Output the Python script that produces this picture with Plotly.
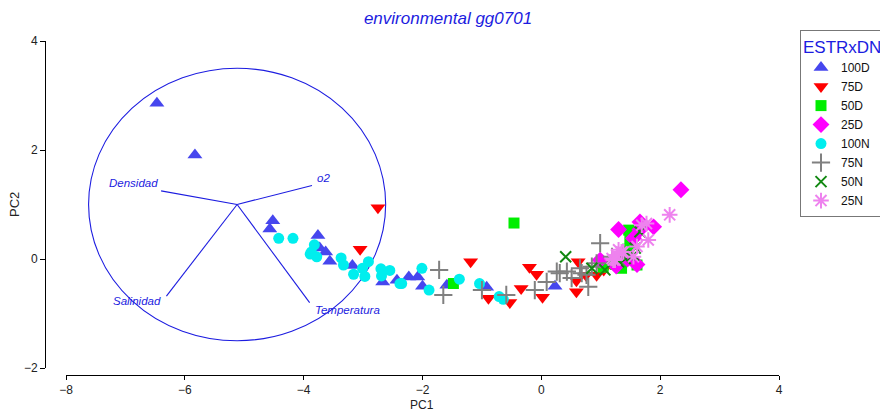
import plotly.graph_objects as go

# ---------------- data ----------------
d100_x = [-6.47, -5.83, -4.52, -4.57, -3.76, -3.73, -3.63, -3.56, -3.18, -2.67, -2.43, -2.23, -2.08, -2.00, -1.59, -0.92, 0.23]
d100_y = [2.86, 1.91, 0.70, 0.55, 0.43, 0.20, 0.13, -0.04, -0.12, -0.42, -0.39, -0.33, -0.33, -0.50, -0.48, -0.52, -0.50]

d75_x = [-2.75, -3.05, -1.19, -0.89, -0.53, -0.34, -0.20, -0.08, 0.02, 0.62, 0.59, 0.59, 0.75, 0.93, 1.05, 1.10]
d75_y = [0.94, 0.18, -0.05, -0.72, -0.80, -0.54, -0.15, -0.28, -0.70, -0.05, -0.40, -0.60, -0.30, -0.30, -0.20, -0.02]

d50_x = [-0.46, -1.48, 1.47, 1.49, 1.45, 1.43, 1.61, 1.35, 1.10, 1.04, 1.25]
d50_y = [0.66, -0.45, 0.53, 0.36, 0.18, 0.05, -0.11, -0.17, -0.05, -0.15, -0.10]

d25_x = [2.35, 1.30, 1.66, 1.89, 1.66, 1.55, 0.99, 1.26, 1.61, 1.45]
d25_y = [1.27, 0.54, 0.68, 0.59, 0.54, 0.38, -0.02, -0.13, -0.10, 0.00]

n100_x = [-4.42, -4.18, -3.82, -3.87, -3.78, -3.89, -3.37, -3.33, -3.16, -2.97, -2.91, -3.01, -2.70, -2.55,
          -2.69, -2.38, -2.35, -2.01, -1.89, -1.38, -1.04, -0.71, -0.64]
n100_y = [0.38, 0.38, 0.26, 0.13, 0.04, 0.09, 0.02, -0.11, -0.28, -0.32, -0.05, -0.17, -0.18, -0.21,
          -0.31, -0.45, -0.45, -0.17, -0.57, -0.37, -0.45, -0.69, -0.74]

n75_x = [-1.72, -1.65, -1.00, -0.59, -0.11, 0.09, 0.26, 0.99, 0.31, 0.43, 0.65, 0.68, 0.76, 0.51, 0.79, 0.85, 0.93, 1.19]
n75_y = [-0.20, -0.66, -0.57, -0.66, -0.57, -0.42, -0.23, 0.29, -0.26, -0.23, -0.17, -0.26, -0.29, -0.35, -0.51, -0.14, -0.08, 0.04]

n50_x = [0.41, 1.07, 1.30, 1.41, 1.55, 1.58, 0.85, 1.27, 1.66, 1.47]
n50_y = [0.04, -0.20, -0.05, 0.01, 0.07, 0.20, -0.17, -0.02, 0.50, 0.07]

n25_x = [2.16, 1.77, 1.80, 1.61, 1.30, 1.35, 1.55, 1.19, 1.24, 1.69, 1.27, 1.38, 1.21]
n25_y = [0.81, 0.65, 0.35, 0.23, 0.17, 0.13, 0.04, 0.01, -0.02, 0.62, 0.07, 0.13, -0.02]

vec_names = ["Densidad", "o2", "Salinidad", "Temperatura"]
vec_x = [-6.40, -3.86, -6.31, -3.90]
vec_y = [1.25, 1.35, -0.68, -0.80]
label_x = [-6.42, -3.81, -6.37, -3.84]
label_y = [1.39, 1.49, -0.77, -0.94]
label_anchor = ["right", "left", "right", "left"]

center_x, center_y, radius = -5.12, 1.0, 2.5

x_ticks = [-8, -6, -4, -2, 0, 2, 4]
y_ticks = [-2, 0, 2, 4]

# ---------------- figure ----------------
BLUE = "#1c1ce0"
FONT = "Liberation Sans, Arial"
fig = go.Figure()

series = [
    ("100D", d100_x, d100_y, "triangle-up", "#4646ee", 13),
    ("75D", d75_x, d75_y, "triangle-down", "#ff0000", 13),
    ("50D", d50_x, d50_y, "square", "#00ee00", 11),
    ("25D", d25_x, d25_y, "diamond", "#ff00ff", 13),
    ("100N", n100_x, n100_y, "circle", "#00eeee", 11),
    ("75N", n75_x, n75_y, "cross-thin-open", "#808080", 13),
    ("50N", n50_x, n50_y, "x-thin-open", "#118811", 11),
    ("25N", n25_x, n25_y, "asterisk-open", "#ee82ee", 13),
]

# vectors
for i in range(len(vec_names)):
    fig.add_trace(go.Scatter(x=[center_x, vec_x[i]], y=[center_y, vec_y[i]], mode="lines",
                             line=dict(color=BLUE, width=1.1), showlegend=False, hoverinfo="skip"))

for name, xs, ys, sym, col, sz in series:
    thin = sym.endswith("open")
    fig.add_trace(go.Scatter(
        x=xs, y=ys, mode="markers", name=name,
        marker=dict(symbol=sym, size=sz, color=col,
                    line=dict(color=col, width=2 if thin else 0)),
    ))

fig.add_shape(type="circle", xref="x", yref="y",
              x0=center_x - radius, x1=center_x + radius,
              y0=center_y - radius, y1=center_y + radius,
              line=dict(color=BLUE, width=1.1), layer="below")

for i in range(len(vec_names)):
    fig.add_annotation(x=label_x[i], y=label_y[i], xref="x", yref="y", text=vec_names[i],
                       showarrow=False, xanchor=label_anchor[i], yanchor="middle",
                       font=dict(family=FONT, size=11.5, color=BLUE, style="italic"))

L, R, T, B = 45, 101, 41, 36
W, H = 880, 411
pw, ph = W - L - R, H - T - B

fig.add_annotation(xref="paper", yref="paper", x=(14 - L) / pw, y=(375 - 205) / ph, text="PC2",
                   textangle=-90, showarrow=False, xanchor="center", yanchor="middle",
                   font=dict(family=FONT, size=13, color="#222"))
fig.add_annotation(xref="paper", yref="paper", x=(422 - L) / pw, y=(375 - 405) / ph, text="PC1",
                   showarrow=False, xanchor="center", yanchor="middle",
                   font=dict(family=FONT, size=12, color="#222"))

fig.update_layout(
    width=W, height=H,
    margin=dict(l=L, r=R, t=T, b=B, autoexpand=False),
    plot_bgcolor="white", paper_bgcolor="white",
    font=dict(family=FONT, size=12, color="#222"),
    title=dict(text="environmental gg0701", xref="paper", x=(448 - L) / pw, xanchor="center",
               yref="container", y=1 - 18 / H, yanchor="middle",
               font=dict(family=FONT, size=17, color=BLUE, style="italic")),
    xaxis=dict(range=[-8, 4], domain=[(66 - L) / pw, 1], anchor="free", position=0,
               tickvals=x_ticks, showgrid=False, zeroline=False, showline=True,
               linecolor="black", linewidth=1, ticks="outside", ticklen=4, tickcolor="black",
               tickfont=dict(size=12, color="#222"), automargin=False),
    yaxis=dict(range=[-2, 4], domain=[(375 - 368) / ph, 1], anchor="free", position=0,
               tickvals=y_ticks, showgrid=False, zeroline=False, showline=True,
               linecolor="black", linewidth=1, ticks="outside", ticklen=5, tickcolor="black",
               tickfont=dict(size=12, color="#222"), automargin=False),
    legend=dict(x=(800 - L) / pw, y=(375 - 30) / ph, xanchor="left", yanchor="top",
                bordercolor="#777", borderwidth=1, bgcolor="white",
                font=dict(size=12, color="#111"),
                title=dict(text="ESTRxDN", font=dict(size=17, color=BLUE)),
                itemwidth=30, tracegroupgap=0),
    showlegend=True,
)

fig.write_html("out.html")
